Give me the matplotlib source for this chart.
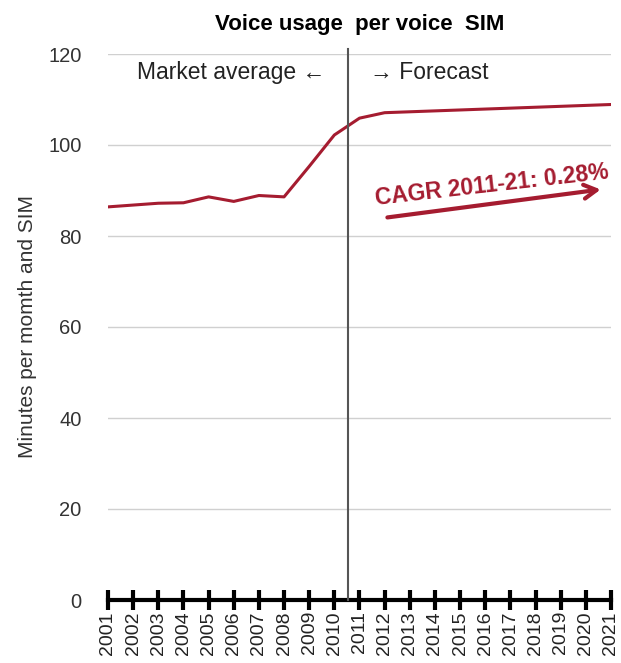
import matplotlib
matplotlib.use("Agg")
import matplotlib.pyplot as plt

years = list(range(2001, 2022))
usage = [86.4, 86.8, 87.2, 87.3, 88.6, 87.6, 88.9, 88.6, 95.3, 102.2, 105.9,
         107.1, 107.3, 107.5, 107.7, 107.9, 108.1, 108.3, 108.5, 108.7, 108.9]
yticks = [0, 20, 40, 60, 80, 100, 120]
title = "Voice usage  per voice  SIM"
ylabel = "Minutes per momth and SIM"
cagr_label = "CAGR 2011-21: 0.28%"

RED = "#A51C30"
plt.rcParams['font.family'] = ['Liberation Sans', 'DejaVu Sans']

fig = plt.figure(figsize=(6.21, 6.63), dpi=100)
ax = fig.add_axes([108/621, 1-600/663, (611-108)/621, (600-54)/663])

ax.plot(years, usage, color=RED, lw=2.2, zorder=3)
ax.set_xlim(2001, 2021)
ax.set_ylim(0, 120)
ax.set_yticks(yticks)
ax.set_yticklabels([str(v) for v in yticks], fontsize=14.5, color='#333333')
ax.tick_params(axis='y', length=0, pad=19)
ax.yaxis.grid(True, color='#d0d0d0', lw=1)
ax.set_axisbelow(True)
for s in ['left', 'right', 'top']:
    ax.spines[s].set_visible(False)
ax.spines['bottom'].set_linewidth(3)
ax.spines['bottom'].set_color('black')
ax.set_xticks(years)
ax.set_xticklabels([str(y) for y in years], rotation=90, fontsize=14, color='#222222')
ax.tick_params(axis='x', direction='inout', length=14, width=3, pad=1)

ax.axvline(2010.55, color='#555555', lw=1.5, ymax=1.01, clip_on=False, zorder=4)

ax.set_title(title, fontsize=16, fontweight='bold', pad=17)
ax.set_ylabel(ylabel, fontsize=15, color='#333333', labelpad=8)

ax.text(2009.63, 116.0, "Market average ←", ha='right', va='center', fontsize=16.5, color='#222222')
ax.text(2011.42, 116.0, "→ Forecast", ha='left', va='center', fontsize=16.5, color='#222222')

ax.annotate("", xy=(2020.7, 90.3), xytext=(2012.0, 84.0),
            arrowprops=dict(arrowstyle='->,head_length=0.9,head_width=0.5', color=RED, lw=3))
ax.text(2016.27, 91.2, cagr_label, rotation=6.5, ha='center', va='center',
        fontsize=16.5, fontweight='bold', color=RED, rotation_mode='anchor')

fig.savefig("out.png", dpi=100)
